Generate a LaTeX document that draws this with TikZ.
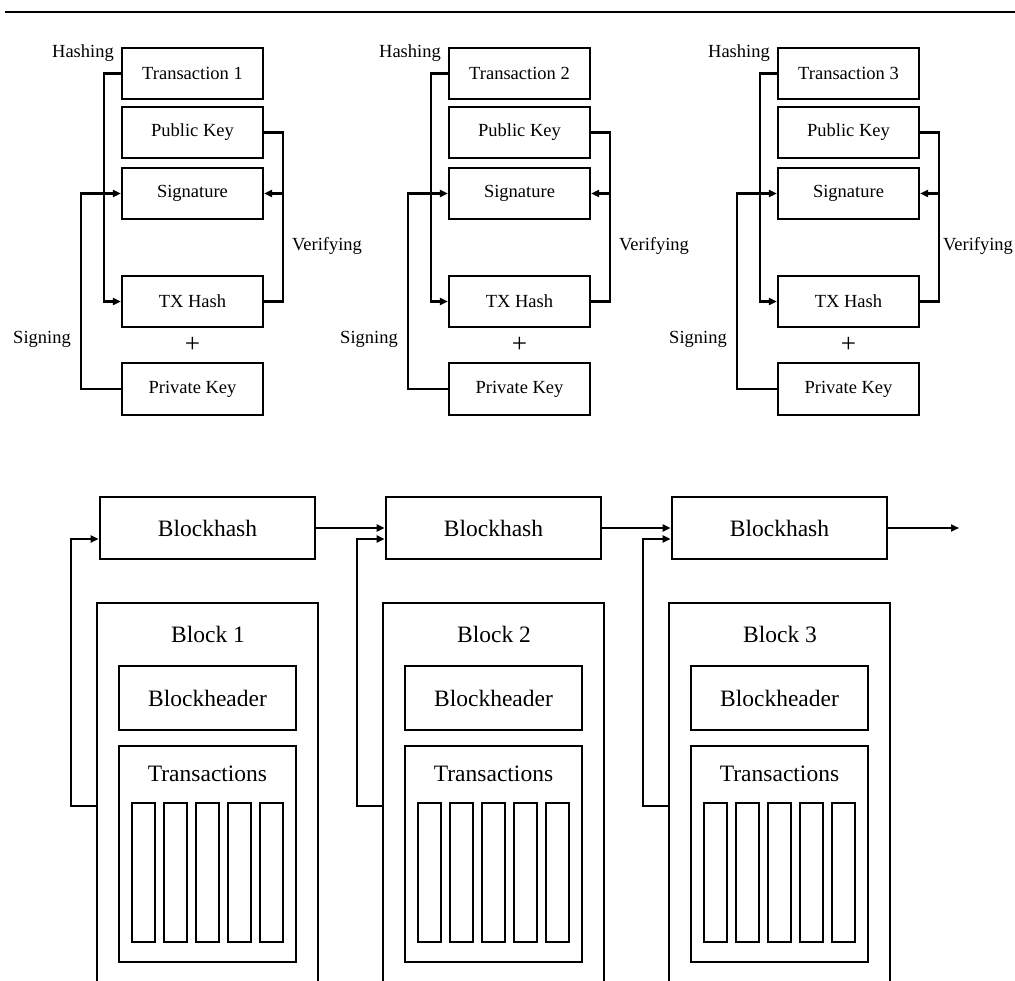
\documentclass[tikz,border=0pt]{standalone}
\usepackage{fontspec}
\setmainfont{Liberation Serif}
\usetikzlibrary{arrows.meta,calc}
\begin{document}
\begin{tikzpicture}[x=1pt,y=-1pt,
  tbox/.style={draw,line width=2.3pt,minimum width=141pt,minimum height=51pt,inner sep=0pt,font=\fontsize{18.5}{22}\selectfont},
  lbl/.style={inner sep=0pt,font=\fontsize{18.5}{22}\selectfont},
  blbl/.style={inner sep=0pt,font=\fontsize{23.5}{28}\selectfont},
  conn/.style={line width=2.1pt},
  arr/.style={conn,-{Triangle[length=8pt,width=7pt]}},
  hbox/.style={draw,line width=2.8pt,minimum width=215pt,minimum height=62pt,inner sep=0pt,font=\fontsize{23.5}{28}\selectfont},
  frame/.style={draw,line width=2.8pt,inner sep=0pt},
  slot/.style={draw,line width=2.4pt,minimum width=23pt,minimum height=139pt,inner sep=0pt}
]
\useasboundingbox (0,0) rectangle (1015,981);
\clip (0,0) rectangle (1015,981);
% top rule
\coordinate (rl) at (5,12);
\coordinate (rr) at (1020,12);
\draw[line width=2pt] (rl) -- (rr);
% transaction groups
\foreach \g/\dx/\vx in {1/0/327,2/327/327,3/656/322}{
  \node[tbox] (t\g) at (192.5+\dx,73.5) {Transaction \g};
  \node[tbox] (k\g) at (192.5+\dx,132.5) {Public Key};
  \node[tbox] (s\g) at (192.5+\dx,193.5) {Signature};
  \node[tbox] (h\g) at (192.5+\dx,301.5) {TX Hash};
  \node[inner sep=0pt,font=\fontsize{27}{27}\selectfont] (plus\g) at (192.5+\dx,345) {+};
  \node[tbox,minimum height=52pt] (p\g) at (192.5+\dx,389) {Private Key};
  \node[lbl] (hl\g) at (83+\dx,53) {Hashing};
  \node[lbl] (vl\g) at (\vx+\dx,246) {Verifying};
  \node[lbl] (sl\g) at (42+\dx,339) {Signing};
  \draw[arr] (t\g.west) -- ++(-17,0) |- (h\g.west);
  \draw[arr] (p\g.west) -- ++(-40,0) |- (s\g.west);
  \draw[conn] (k\g.east) -- ++(19,0) coordinate (vt\g) |- (h\g.east);
  \draw[arr] (vt\g |- s\g.east) -- (s\g.east);
}
% blocks
\foreach \b/\dx in {1/0,2/286,3/572}{
  \node[hbox] (bh\b) at (207.5+\dx,528) {Blockhash};
  \node[frame,minimum width=221pt,minimum height=406pt] (blk\b) at (207.5+\dx,806) {};
  \node[blbl] (bl\b) at (208+\dx,634) {Block \b};
  \node[hbox,minimum width=177pt,minimum height=64pt] (hd\b) at (207.5+\dx,698) {Blockheader};
  \node[frame,minimum width=177pt,minimum height=216pt] (tr\b) at (207.5+\dx,854) {};
  \node[blbl] (trl\b) at (207.5+\dx,774) {Transactions};
  \foreach \i in {0,...,4}{
    \node[slot] (r\b\i) at (143.5+\dx+32*\i,872.5) {};
  }
  \draw[arr] (blk\b.west) -- ++(-25,0) |- ([yshift=-11pt]bh\b.west);
}
\draw[arr] (bh1.east) -- (bh2.west);
\draw[arr] (bh2.east) -- (bh3.west);
\coordinate (out) at (959,528);
\draw[arr] (bh3.east) -- (out);
\end{tikzpicture}
\end{document}
